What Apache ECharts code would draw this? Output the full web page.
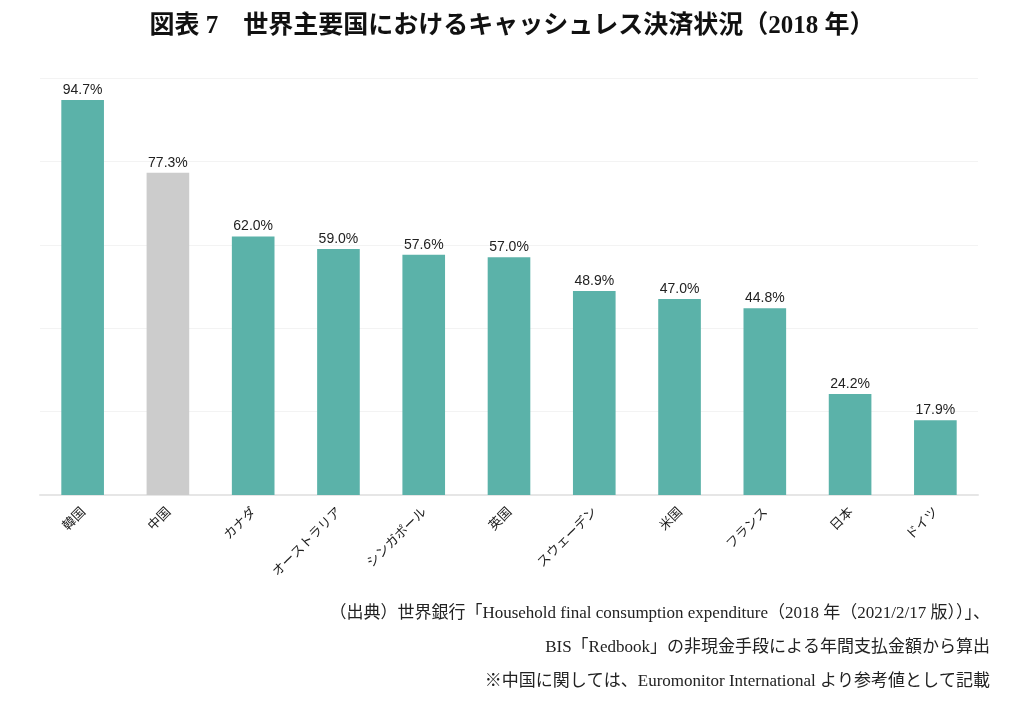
<!DOCTYPE html>
<html><head><meta charset="utf-8">
<script src="https://cdn.jsdelivr.net/npm/echarts@6/dist/echarts.min.js"></script>
<style>html,body{margin:0;padding:0;background:#fff}#c{width:1024px;height:705px}</style>
</head><body><div id="c"></div>
<script>
const categories = ['韓国','中国','カナダ','オーストラリア','シンガポール','英国','スウェーデン','米国','フランス','日本','ドイツ'];
const values = [94.7, 77.3, 62.0, 59.0, 57.6, 57.0, 48.9, 47.0, 44.8, 24.2, 17.9];
const highlight = ['中国'];
const titleText = '図表 7　世界主要国におけるキャッシュレス決済状況（2018 年）';
const notes = [
  '（出典）世界銀行「Household final consumption expenditure（2018 年（2021/2/17 版））」、',
  'BIS「Redbook」の非現金手段による年間支払金額から算出',
  '※中国に関しては、Euromonitor International より参考値として記載'
];
const teal = '#5BB2A9', gray = '#CCCCCC';
const serif = '"Liberation Serif","Noto Sans CJK JP",serif';
const chart = echarts.init(document.getElementById('c'));
const titles = [{
  text: titleText, left: 'center', top: 9,
  textStyle: {fontFamily: serif, fontWeight: 'bold', fontSize: 25, color: '#111'}
}];
notes.forEach((t, i) => titles.push({
  text: t, right: 29, top: 600 + i * 34,
  textStyle: {fontFamily: serif, fontWeight: 'normal', fontSize: 17, color: '#222'}
}));
chart.setOption({
  animation: false,
  title: titles,
  grid: {left: 40, right: 46, top: 78, bottom: 210, containLabel: false},
  xAxis: {
    type: 'category', data: categories,
    axisLine: {lineStyle: {color: '#e6e6e6', width: 2}},
    axisTick: {show: false},
    axisLabel: {rotate: 45, interval: 0, margin: 14, fontSize: 13, color: '#222',
      fontFamily: '"Noto Sans CJK JP",sans-serif'}
  },
  yAxis: {
    type: 'value', min: 0, max: 100, interval: 20,
    axisLabel: {show: false}, axisLine: {show: false}, axisTick: {show: false},
    splitLine: {lineStyle: {color: '#f3f3f3', width: 1}}
  },
  series: [{
    type: 'bar', barWidth: '50%',
    data: values.map((v, i) => ({value: v, itemStyle: {color: highlight.includes(categories[i]) ? gray : teal}})),
    label: {show: true, position: 'top', distance: 3, fontSize: 14, color: '#222',
      fontFamily: '"Liberation Sans",Arial,sans-serif',
      formatter: p => p.value.toFixed(1) + '%'}
  }]
});
</script></body></html>
